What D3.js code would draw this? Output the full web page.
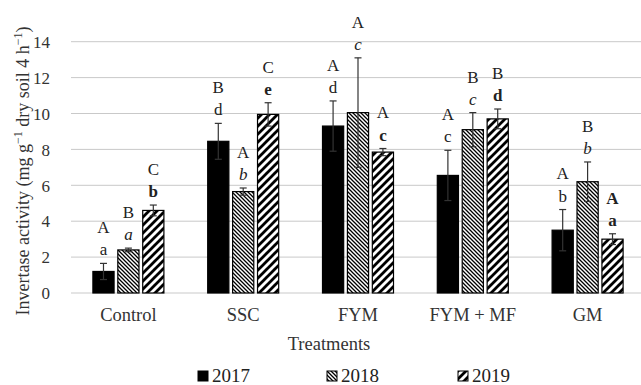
<!DOCTYPE html>
<html>
<head>
<meta charset="utf-8">
<script src="https://cdn.jsdelivr.net/npm/d3@7/dist/d3.min.js"></script>
<style>
  html, body { margin: 0; padding: 0; background: #fff; }
  svg text { font-family: "Liberation Serif", "Times New Roman", "DejaVu Serif", serif; }
</style>
</head>
<body>
<svg id="chart" width="641" height="385"></svg>
<script>
// Invertase activity by treatment and year
const categories = ["Control", "SSC", "FYM", "FYM + MF", "GM"];
const years = ["2017", "2018", "2019"];
const values2017 = [1.2, 8.45, 9.3, 6.55, 3.5];
const values2018 = [2.4, 5.65, 10.05, 9.1, 6.2];
const values2019 = [4.6, 9.95, 7.85, 9.7, 3.0];
const errors2017 = [0.45, 1.0, 1.4, 1.4, 1.15];
const errors2018 = [0.1, 0.2, 3.05, 0.95, 1.1];
const errors2019 = [0.3, 0.65, 0.2, 0.55, 0.3];
// Significance letters: upper = between years, lower = between treatments
const upper2017 = ["A", "B", "A", "A", "A"];
const upper2018 = ["B", "A", "A", "B", "B"];
const upper2019 = ["C", "C", "A", "B", "A"];
const lower2017 = ["a", "d", "d", "c", "b"];
const lower2018 = ["a", "b", "c", "c", "b"];
const lower2019 = ["b", "e", "c", "d", "a"];
const upperBold2019 = [false, false, false, false, true];
const yTicks = [0, 2, 4, 6, 8, 10, 12, 14];

const FONT = "'Liberation Serif', 'Times New Roman', 'DejaVu Serif', serif";

const series = [
  { year: years[0], values: values2017, errors: errors2017, upper: upper2017, lower: lower2017, fill: "#000", lowerStyle: "normal", lowerWeight: "normal", upperBold: categories.map(() => false) },
  { year: years[1], values: values2018, errors: errors2018, upper: upper2018, lower: lower2018, fill: "url(#hatch2018)", lowerStyle: "italic", lowerWeight: "normal", upperBold: categories.map(() => false) },
  { year: years[2], values: values2019, errors: errors2019, upper: upper2019, lower: lower2019, fill: "url(#hatch2019)", lowerStyle: "normal", lowerWeight: "bold", upperBold: upperBold2019 }
];

const svg = d3.select("#chart").attr("font-family", FONT);
const plot = { left: 71, right: 645, top: 41.7, bottom: 293 };

// Hatch patterns
const defs = svg.append("defs");
const p18 = defs.append("pattern").attr("id", "hatch2018")
  .attr("patternUnits", "userSpaceOnUse").attr("width", 4).attr("height", 4);
p18.append("rect").attr("width", 4).attr("height", 4).attr("fill", "#fff");
p18.append("path").attr("d", "M-1,-1 L5,5 M-1,3 L1,5 M3,-1 L5,1")
  .attr("stroke", "#000").attr("stroke-width", 1.3);

const p19 = defs.append("pattern").attr("id", "hatch2019")
  .attr("patternUnits", "userSpaceOnUse").attr("width", 8).attr("height", 8);
p19.append("rect").attr("width", 8).attr("height", 8).attr("fill", "#fff");
p19.append("path").attr("d", "M-2,10 L10,-2 M-2,2 L2,-2 M6,10 L10,6")
  .attr("stroke", "#000").attr("stroke-width", 2.8);

const y = d3.scaleLinear().domain([0, 14]).range([plot.bottom, plot.top]);
const x0 = d3.scaleBand().domain(categories).range([plot.left, plot.right]);
const clusterWidth = 71;
const x1 = d3.scaleBand().domain(years).range([0, clusterWidth]).paddingInner(0.15);
const clusterOffset = (x0.bandwidth() - clusterWidth) / 2;

// Gridlines
svg.append("g").selectAll("line").data(yTicks).join("line")
  .attr("x1", plot.left).attr("x2", plot.right)
  .attr("y1", d => y(d)).attr("y2", d => y(d))
  .attr("stroke", "#c9c9c9").attr("stroke-width", 1);

// Y axis tick labels
const yAxis = d3.axisLeft(y).tickValues(yTicks).tickSize(0).tickPadding(0);
const gy = svg.append("g").attr("transform", "translate(50,0)").call(yAxis)
  .attr("font-family", FONT);
gy.select(".domain").remove();
gy.selectAll("text").attr("font-size", 17).attr("fill", "#333").attr("dy", "0.34em");

// X axis category labels
const xAxis = d3.axisBottom(x0).tickSize(0).tickPadding(0);
const gx = svg.append("g").attr("transform", "translate(0,308)").call(xAxis)
  .attr("font-family", FONT);
gx.select(".domain").remove();
gx.selectAll("text").attr("font-size", 18.5).attr("fill", "#333").attr("dy", "0.71em");

// Bars, error bars and letters
series.forEach(s => {
  const g = svg.append("g");
  const rows = categories.map((c, i) => ({
    cat: c, v: s.values[i], e: s.errors[i], up: s.upper[i], lo: s.lower[i], ub: s.upperBold[i],
    x: x0(c) + clusterOffset + x1(s.year)
  }));
  g.selectAll("rect").data(rows).join("rect")
    .attr("x", d => d.x).attr("width", x1.bandwidth())
    .attr("y", d => y(d.v)).attr("height", d => y(0) - y(d.v))
    .attr("fill", s.fill).attr("stroke", "#000").attr("stroke-width", 1.2);

  const cx = d => d.x + x1.bandwidth() / 2;
  g.selectAll("line.err").data(rows).join("line").attr("class", "err")
    .attr("x1", cx).attr("x2", cx)
    .attr("y1", d => y(d.v + d.e)).attr("y2", d => y(d.v - d.e))
    .attr("stroke", "#333").attr("stroke-width", 1.2);
  [1, -1].forEach(sign => {
    g.selectAll("line.cap" + sign).data(rows).join("line")
      .attr("x1", d => cx(d) - 3.5).attr("x2", d => cx(d) + 3.5)
      .attr("y1", d => y(d.v + sign * d.e)).attr("y2", d => y(d.v + sign * d.e))
      .attr("stroke", "#333").attr("stroke-width", 1.2);
  });

  g.selectAll("text.lo").data(rows).join("text")
    .attr("x", cx).attr("y", d => y(d.v + d.e) - 13)
    .attr("dy", "0.3em").attr("text-anchor", "middle")
    .attr("font-size", 17).attr("fill", "#222")
    .attr("font-style", s.lowerStyle).attr("font-weight", s.lowerWeight)
    .text(d => d.lo);
  g.selectAll("text.up").data(rows).join("text")
    .attr("x", cx).attr("y", d => y(d.v + d.e) - 36)
    .attr("dy", "0.35em").attr("text-anchor", "middle")
    .attr("font-size", 17).attr("fill", "#222")
    .attr("font-weight", d => d.ub ? "bold" : "normal")
    .text(d => d.up);
});

// Axis titles
svg.append("text").attr("x", 329).attr("y", 350).attr("text-anchor", "middle")
  .attr("font-size", 18.5).attr("fill", "#333").text("Treatments");

const yt = svg.append("text")
  .attr("transform", "translate(29,171) rotate(-90)")
  .attr("text-anchor", "middle").attr("font-size", 18).attr("fill", "#333");
yt.append("tspan").text("Invertase activity (mg g");
yt.append("tspan").attr("baseline-shift", "super").attr("font-size", 12).text("\u22121");
yt.append("tspan").text(" dry soil 4 h");
yt.append("tspan").attr("baseline-shift", "super").attr("font-size", 12).text("\u22121");
yt.append("tspan").text(")");

// Legend
const legendX = [198, 327, 458];
const lg = svg.append("g").selectAll("g").data(series).join("g")
  .attr("transform", (d, i) => `translate(${legendX[i]},371)`);
lg.append("rect").attr("width", 10).attr("height", 10)
  .attr("fill", d => d.fill).attr("stroke", "#000").attr("stroke-width", 1);
lg.append("text").attr("x", 14).attr("y", 10.5).attr("font-size", 19).attr("fill", "#222")
  .text(d => d.year);
</script>
</body>
</html>
